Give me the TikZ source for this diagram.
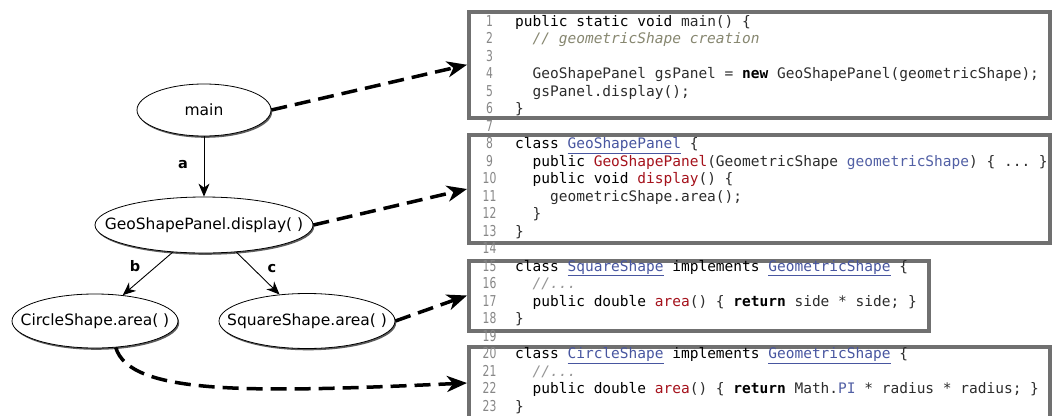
\documentclass[tikz,border=0pt]{standalone}
\usepackage{fontspec}
\setmainfont{DejaVu Sans}
\setsansfont{DejaVu Sans}
\setmonofont{DejaVu Sans Mono}
\usetikzlibrary{arrows.meta,shapes.geometric,shadows}
\definecolor{boxgray}{RGB}{112,112,112}
\definecolor{idcol}{RGB}{45,45,45}
\definecolor{fncol}{RGB}{165,18,28}
\definecolor{linkcol}{RGB}{72,86,160}
\definecolor{parcol}{RGB}{82,96,165}
\definecolor{cmtcol}{RGB}{135,135,112}
\definecolor{dotcol}{RGB}{150,150,150}
\definecolor{numcol}{RGB}{135,135,135}
\newcommand\cxK[1]{{\color{black}#1}}
\newcommand\cxB[1]{{\color{black}\bfseries #1}}
\newcommand\cxF[1]{{\color{fncol}#1}}
\newcommand\cxC[1]{{\color{linkcol}\underline{#1}}}
\newcommand\cxP[1]{{\color{parcol}#1}}
\newcommand\cxO[1]{{\color{cmtcol}\itshape #1}}
\newcommand\cxM[1]{{\color{dotcol}\itshape #1}}
\newcommand\cxZ[1]{\makebox[0pt][c]{#1}}
\tikzset{
  ell/.style={ellipse, draw=black, line width=0.8pt, fill=white, inner sep=0pt,
    font=\sffamily\fontsize{15.5}{17}\selectfont,
    drop shadow={shadow xshift=1.2pt, shadow yshift=-1.8pt, fill=black!75, opacity=0.85}},
  codebox/.style={rectangle, draw=boxgray, line width=4pt, inner sep=0pt},
  codeline/.style={inner sep=0pt, anchor=base west, text=idcol,
    font=\ttfamily\fontsize{14.5}{17.5}\selectfont},
  lnum/.style={inner sep=0pt, anchor=base, text=numcol,
    font=\sffamily\fontsize{15}{15}\selectfont},
  lab/.style={inner sep=0pt, font=\sffamily\bfseries\fontsize{14.5}{16}\selectfont},
  solarrow/.style={line width=0.9pt, -{Stealth[length=13pt,width=11pt,inset=4pt]}},
  dasharrow/.style={line width=3.5pt, dash pattern=on 16pt off 8pt,
    -{Stealth[length=20pt,width=16pt,inset=6pt]}}
}
\begin{document}
\begin{tikzpicture}[x=1pt,y=-1pt]
\useasboundingbox (0,0) rectangle (1052,415);
\clip (0,0) rectangle (1052,415);
\fill[white] (0,0) rectangle (1052,415);

% code boxes
\node[codebox, minimum width=581pt, minimum height=106.5pt] (b1) at (759.5,64.75) {};
\node[codebox, minimum width=581pt, minimum height=108pt] (b2) at (759.5,189) {};
\node[codebox, minimum width=460pt, minimum height=70pt] (b3) at (699,295.5) {};
\node[codebox, minimum width=581pt, minimum height=72pt] (b4) at (759.5,383) {};

% line numbers
\foreach \n in {1,...,23}
  \node[lnum] (n\n) at (489.5,{26+(\n-1)*17.5}) {\scalebox{0.72}[1]{\n}};

% code lines
\node[codeline] (c1) at (515,26) {\cxK{public static void} main() \{};
\node[codeline] (c2) at (515,43.5) {\hphantom{xx}\cxO{// geometricShape creation}};
\node[codeline] (c4) at (515,78.5) {\hphantom{xx}GeoShapePanel gsPanel = \cxB{new} GeoShapePanel(geometricShape);};
\node[codeline] (c5) at (515,96) {\hphantom{xx}gsPanel.display();};
\node[codeline] (c6) at (515,113.5) {\}};
\node[codeline] (c8) at (515,148.5) {\cxK{class} \cxC{GeoShapePanel} \{};
\node[codeline] (c9) at (515,166) {\hphantom{xx}\cxK{public} \cxF{GeoShapePanel}(GeometricShape \cxP{geometricShape}) \{ ... \}};
\node[codeline] (c10) at (515,183.5) {\hphantom{xx}\cxK{public void} \cxF{display}() \{};
\node[codeline] (c11) at (515,201) {\hphantom{xxxx}geometricShape.area();};
\node[codeline] (c12) at (515,218.5) {\hphantom{xx}\}};
\node[codeline] (c13) at (515,236) {\}};
\node[codeline] (c15) at (515,271) {\cxK{class} \cxC{SquareShape} \cxK{implements} \cxC{GeometricShape} \{};
\node[codeline] (c16) at (515,288.5) {\hphantom{xx}\cxM{//...}};
\node[codeline] (c17) at (515,306) {\hphantom{xx}\cxK{public double} \cxF{area}() \{ \cxB{return} side * side; \}};
\node[codeline] (c18) at (515,323.5) {\}};
\node[codeline] (c20) at (515,358.5) {\cxK{class} \cxC{CircleShape} \cxK{implements} \cxC{GeometricShape} \{};
\node[codeline] (c21) at (515,376) {\hphantom{xx}\cxM{//...}};
\node[codeline] (c22) at (515,393.5) {\hphantom{xx}\cxK{public double} \cxF{area}() \{ \cxB{return} Math.\cxP{PI} * radius * radius; \}};
\node[codeline] (c23) at (515,411) {\}};

% call graph
\node[ell, minimum width=134pt, minimum height=52pt] (main) at (204,110) {\cxZ{main}};
\node[ell, minimum width=218pt, minimum height=56pt] (disp) at (204,225) {\cxZ{GeoShapePanel.display( )}};
\node[ell, minimum width=166pt, minimum height=54pt] (circ) at (95,321) {\cxZ{CircleShape.area( )}};
\node[ell, minimum width=176pt, minimum height=55pt] (sq) at (307,321) {\cxZ{SquareShape.area( )}};

\draw[solarrow] (main.south) -- (disp.north);
\draw[solarrow] (disp.221) -- (circ.43);
\draw[solarrow] (disp.-40) -- (sq.136);
\node[lab] (la) at (183,165) {a};
\node[lab] (lb) at (135,266) {b};
\node[lab] (lc) at (272,269) {c};

\draw[dasharrow] (main.east) -- (b1.west);
\draw[dasharrow] (disp.east) -- (b2.west);
\draw[dasharrow] (sq.east) -- (b3.west);
\draw[dasharrow] (circ.-52) .. controls (130,395) and (250,393) .. (b4.west);
\end{tikzpicture}
\end{document}
